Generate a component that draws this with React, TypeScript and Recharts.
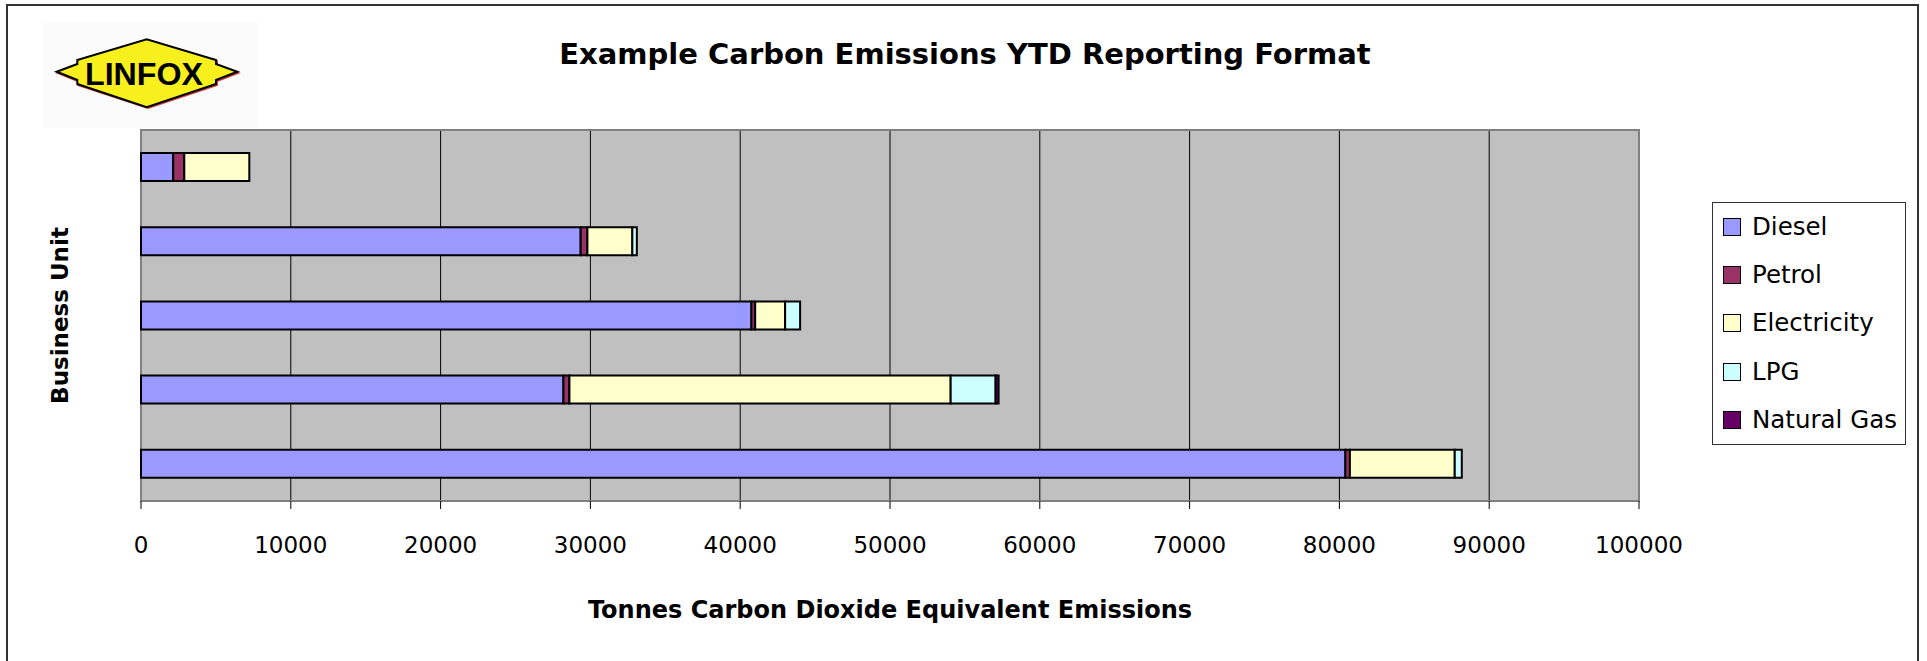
import React from 'react';
import { BarChart, Bar, XAxis, YAxis, CartesianGrid, ReferenceArea, Legend } from 'recharts';

const categories = ['Unit 5', 'Unit 4', 'Unit 3', 'Unit 2', 'Unit 1'];
const diesel = [2150, 29350, 40750, 28200, 80400];
const petrol = [740, 450, 250, 400, 300];
const electricity = [4340, 3000, 2000, 25450, 7000];
const lpg = [0, 300, 1000, 3000, 470];
const naturalGas = [0, 0, 0, 200, 0];

const xTicks = [0, 10000, 20000, 30000, 40000, 50000, 60000, 70000, 80000, 90000, 100000];

const seriesKeys = ['diesel', 'petrol', 'electricity', 'lpg', 'naturalGas'];
const seriesNames = ['Diesel', 'Petrol', 'Electricity', 'LPG', 'Natural Gas'];
const seriesColors = ['#9999FF', '#993366', '#FFFFCC', '#CCFFFF', '#660066'];

const chartTitle = 'Example Carbon Emissions YTD Reporting Format';
const xTitle = 'Tonnes Carbon Dioxide Equivalent Emissions';
const yTitle = 'Business Unit';
const logoText = 'LINFOX';

const data = categories.map((name, i) => ({
  name,
  diesel: diesel[i],
  petrol: petrol[i],
  electricity: electricity[i],
  lpg: lpg[i],
  naturalGas: naturalGas[i],
}));

const FONT = '"DejaVu Sans", Verdana, sans-serif';

const YLabel = (props: any) => {
  const vb = props.viewBox || { x: 0, y: 130, width: 141, height: 371 };
  const cx = vb.x + 60;
  const cy = vb.y + vb.height / 2;
  return (
    <text
      x={cx}
      y={cy}
      transform={`rotate(-90 ${cx} ${cy})`}
      textAnchor="middle"
      dominantBaseline="central"
      fontFamily={FONT}
      fontWeight="bold"
      fontSize={23}
      fill="#000"
    >
      {yTitle}
    </text>
  );
};

const XLabel = (props: any) => {
  const vb = props.viewBox || { x: 141, y: 501, width: 1498, height: 160 };
  const cx = vb.x + vb.width / 2;
  return (
    <text
      x={cx}
      y={vb.y + 117}
      textAnchor="middle"
      fontFamily={FONT}
      fontWeight="bold"
      fontSize={24}
      fill="#000"
    >
      {xTitle}
    </text>
  );
};

const LegendBox = () => (
  <div
    style={{
      width: 194,
      height: 243,
      border: '1px solid #333',
      background: '#fff',
      boxSizing: 'border-box',
      fontFamily: FONT,
      fontSize: 24.5,
      color: '#000',
    }}
  >
    {seriesNames.map((n, i) => (
      <div
        key={n}
        style={{ height: 48.2, display: 'flex', alignItems: 'center', paddingLeft: 10 }}
      >
        <span
          style={{
            display: 'inline-block',
            flex: '0 0 auto',
            width: 18,
            height: 18,
            background: seriesColors[i],
            border: '1.5px solid #000',
            boxSizing: 'border-box',
          }}
        />
        <span style={{ marginLeft: 11, lineHeight: '24px', whiteSpace: 'nowrap' }}>{n}</span>
      </div>
    ))}
  </div>
);

export default function App() {
  return (
    <div
      style={{
        position: 'absolute',
        left: 0,
        top: 0,
        width: 1927,
        height: 661,
        background: '#fff',
        overflow: 'hidden',
      }}
    >
      <div
        style={{
          position: 'absolute',
          left: 6,
          top: 4,
          width: 1913,
          height: 700,
          borderTop: '2px solid #333',
          borderLeft: '2px solid #333',
          borderRight: '2px solid #333',
          boxSizing: 'border-box',
        }}
      />
      <div style={{ position: 'absolute', left: 0, top: 0 }}>
        <BarChart
          width={1927}
          height={661}
          data={data}
          layout="vertical"
          margin={{ top: 130, right: 288, bottom: 0, left: 0 }}
          barSize={28}
        >
          <CartesianGrid horizontal={false} stroke="#000" fill="#C0C0C0" fillOpacity={1} />
          <XAxis
            type="number"
            domain={[0, 100000]}
            ticks={xTicks}
            interval={0}
            height={160}
            tickSize={8}
            tickMargin={28}
            axisLine={{ stroke: '#808080', strokeWidth: 2 }}
            tickLine={{ stroke: '#000' }}
            tick={{ fontSize: 23, fill: '#000', fontFamily: FONT }}
            label={<XLabel />}
          />
          <YAxis
            type="category"
            dataKey="name"
            width={141}
            tick={false}
            tickLine={false}
            axisLine={false}
            label={<YLabel />}
          />
          <ReferenceArea
            x1={0}
            x2={100000}
            fill="none"
            stroke="#808080"
            strokeWidth={2}
            ifOverflow="visible"
          />
          {seriesKeys.map((k, i) => (
            <Bar
              key={k}
              dataKey={k}
              name={seriesNames[i]}
              stackId="a"
              fill={seriesColors[i]}
              stroke="#000"
              strokeWidth={2}
              isAnimationActive={false}
            />
          ))}
          <Legend
            layout="vertical"
            align="center"
            verticalAlign="middle"
            content={<LegendBox />}
            wrapperStyle={{ left: 1712, top: 202, width: 194, height: 243 }}
          />
        </BarChart>
      </div>
      <svg
        width={1927}
        height={661}
        style={{ position: 'absolute', left: 0, top: 0, pointerEvents: 'none' }}
      >
        <rect x={43} y={22} width={215} height={106} fill="#FBFBFB" />
        <polygon
          points="58,73 78,65 78,61 148,40 217,61 217,65 238,73 217,81 217,85 148,108 78,85 78,81"
          fill="none"
          stroke="#D04040"
          strokeWidth={2}
        />
        <polygon
          points="56.7,71.7 77.3,64 77.3,60 146.7,39.3 216,60 216,64 237.3,71.7 216,80 216,84 146.7,107.3 77.3,84 77.3,80"
          fill="#F7F01C"
          stroke="#000"
          strokeWidth={2}
        />
        <text
          x={144}
          y={85}
          textAnchor="middle"
          fontFamily='"Liberation Sans", Arial, sans-serif'
          fontWeight="bold"
          fontSize={32}
          textLength={118}
          lengthAdjust="spacingAndGlyphs"
          fill="#000"
        >
          {logoText}
        </text>
        <text
          x={965}
          y={63.5}
          textAnchor="middle"
          fontFamily={FONT}
          fontWeight="bold"
          fontSize={29}
          fill="#000"
        >
          {chartTitle}
        </text>
      </svg>
    </div>
  );
}
